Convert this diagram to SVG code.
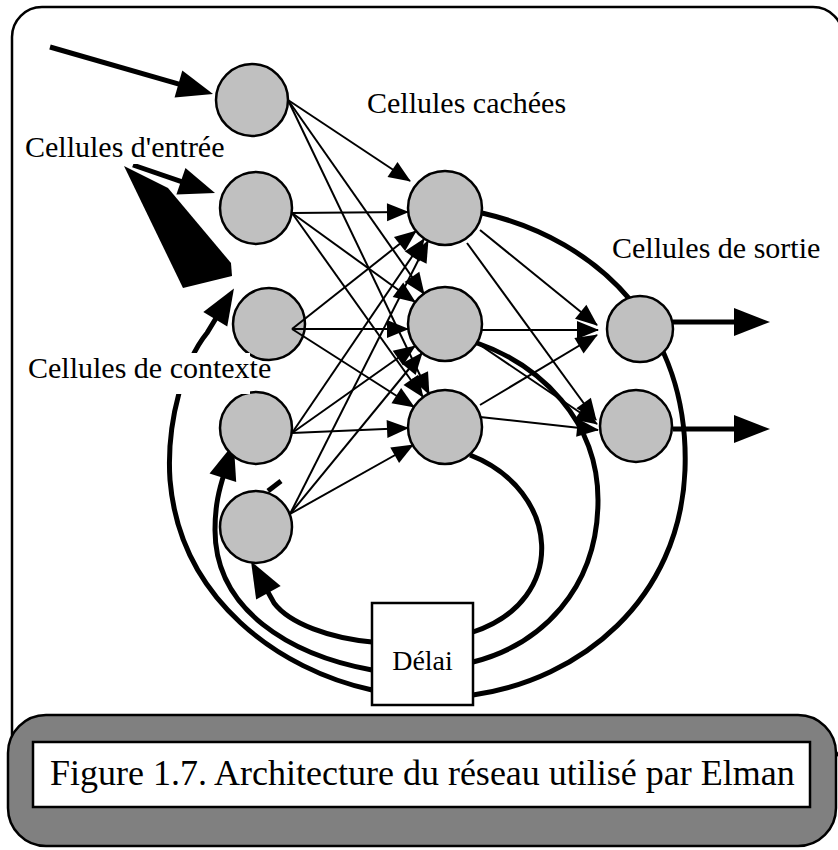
<svg xmlns="http://www.w3.org/2000/svg" width="838" height="850" viewBox="0 0 838 850">
<defs>
<style>
.node{fill:#c0c0c0;stroke:#000;stroke-width:2.5}
.thin{stroke:#000;stroke-width:2;fill:none;marker-end:url(#a)}
.thick{stroke:#000;stroke-width:5;fill:none}
.arr{marker-end:url(#big)}
.lbl{font-family:"Liberation Serif","Times New Roman",serif;font-size:30px;fill:#000}
</style>
<marker id="a" markerUnits="userSpaceOnUse" markerWidth="22" markerHeight="18" refX="21" refY="9" orient="auto" overflow="visible">
<path d="M0,0 L22,9 L0,18 z" fill="#000"/>
</marker>
<marker id="big" markerUnits="userSpaceOnUse" markerWidth="36" markerHeight="28" refX="6" refY="14" orient="auto" overflow="visible">
<path d="M0,0 L36,14 L0,28 z" fill="#000"/>
</marker>
</defs>
<rect x="0" y="0" width="838" height="850" fill="#fff"/>
<rect id="frame" x="12" y="7" width="831" height="760" rx="30" fill="#fff" stroke="#000" stroke-width="2.5"/>
<g id="feedback">
<path class="thick" d="M482,213 C600,240 690,330 685,470 C680,600 580,680 473,695"/>
<path class="thick" d="M477,343 C540,365 598,420 598,500 C598,590 540,645 473,662"/>
<path class="thick" d="M470,455 C560,490 570,600 473,632"/>
<path class="thick arr" d="M372,642 C330,638 290,624 274,603 L265.5,587.6"/>
<path class="thick arr" d="M372,670 C290,655 215,610 215,530 C215,505 219,490 224.7,472.1"/>
<path class="thick arr" d="M372,690 C280,670 180,600 170,480 C166,420 185,360 207,333 L218.4,314.2"/>
<line class="thick" x1="268" y1="491" x2="281" y2="481"/>
</g>
<g id="delai">
<rect x="372" y="603" width="101" height="102" fill="#fff" stroke="#000" stroke-width="2.5"/>
<text x="422.5" y="670" text-anchor="middle" font-family="Liberation Serif, Times New Roman, serif" font-size="28">Délai</text>
</g>
<g id="in1"><circle class="node" cx="252" cy="100" r="36"/></g>
<g id="in2"><circle class="node" cx="256" cy="208" r="36"/></g>
<g id="ctx0"><circle class="node" cx="269" cy="324" r="36"/></g>
<g id="ctx1"><circle class="node" cx="256" cy="428" r="36"/></g>
<g id="ctx2"><circle class="node" cx="256" cy="527" r="36"/></g>
<g id="h1"><circle class="node" cx="445" cy="208" r="37"/></g>
<g id="h2"><circle class="node" cx="445" cy="324" r="37"/></g>
<g id="h3"><circle class="node" cx="445" cy="427" r="37"/></g>
<g id="o1"><circle class="node" cx="640" cy="329" r="33"/></g>
<g id="o2"><circle class="node" cx="636" cy="426" r="36"/></g>
<g id="connectors">
<line class="thin" x1="288" y1="100" x2="410" y2="181"/>
<line class="thin" x1="288" y1="100" x2="424" y2="294"/>
<line class="thin" x1="288" y1="100" x2="429" y2="394"/>
<line class="thin" x1="292" y1="213" x2="408" y2="212"/>
<line class="thin" x1="292" y1="213" x2="415" y2="302"/>
<line class="thin" x1="292" y1="213" x2="423" y2="397"/>
<line class="thin" x1="292" y1="329" x2="416" y2="231"/>
<line class="thin" x1="292" y1="329" x2="408" y2="329"/>
<line class="thin" x1="292" y1="329" x2="414" y2="407"/>
<line class="thin" x1="292" y1="433" x2="424" y2="239"/>
<line class="thin" x1="292" y1="433" x2="415" y2="346"/>
<line class="thin" x1="292" y1="433" x2="408" y2="428"/>
<line class="thin" x1="290" y1="514" x2="428" y2="241"/>
<line class="thin" x1="290" y1="514" x2="422" y2="353"/>
<line class="thin" x1="290" y1="514" x2="413" y2="445"/>
<line class="thin" x1="480" y1="230" x2="597" y2="325"/>
<line class="thin" x1="467" y1="243" x2="596" y2="420"/>
<line class="thin" x1="482" y1="330" x2="598" y2="330"/>
<line class="thin" x1="480" y1="345" x2="597" y2="424"/>
<line class="thin" x1="480" y1="405" x2="597" y2="335"/>
<line class="thin" x1="480" y1="417" x2="598" y2="430"/>
<line class="thick arr" x1="50" y1="47" x2="184.2" y2="85.7"/>
<line class="thick arr" x1="133" y1="165" x2="186.6" y2="183.3"/>
<line class="thick arr" x1="673" y1="322" x2="740" y2="322"/>
<line class="thick arr" x1="673" y1="429" x2="740" y2="429"/>
</g>
<polygon id="wedge" points="124,166 168,188 231,263 232,276 183,288" fill="#000"/>
<g id="labels">
<rect x="22" y="133" width="212" height="31" fill="#fff"/>
<text class="lbl" x="25" y="157">Cellules d'entrée</text>
<text class="lbl" x="367" y="113">Cellules cachées</text>
<text class="lbl" x="612" y="258">Cellules de sortie</text>
<rect x="25" y="353" width="225" height="41" fill="#fff"/>
<text class="lbl" x="28" y="378">Cellules de contexte</text>
</g>
<g id="caption">
<rect x="8" y="715" width="828" height="131" rx="38" fill="#808080" stroke="#000" stroke-width="2.5"/>
<rect x="33" y="742" width="777" height="65" fill="#fff" stroke="#000" stroke-width="2.5"/>
<text x="50" y="785" font-family="Liberation Serif, Times New Roman, serif" font-size="36">Figure 1.7. Architecture du réseau utilisé par Elman</text>
</g>
</svg>
